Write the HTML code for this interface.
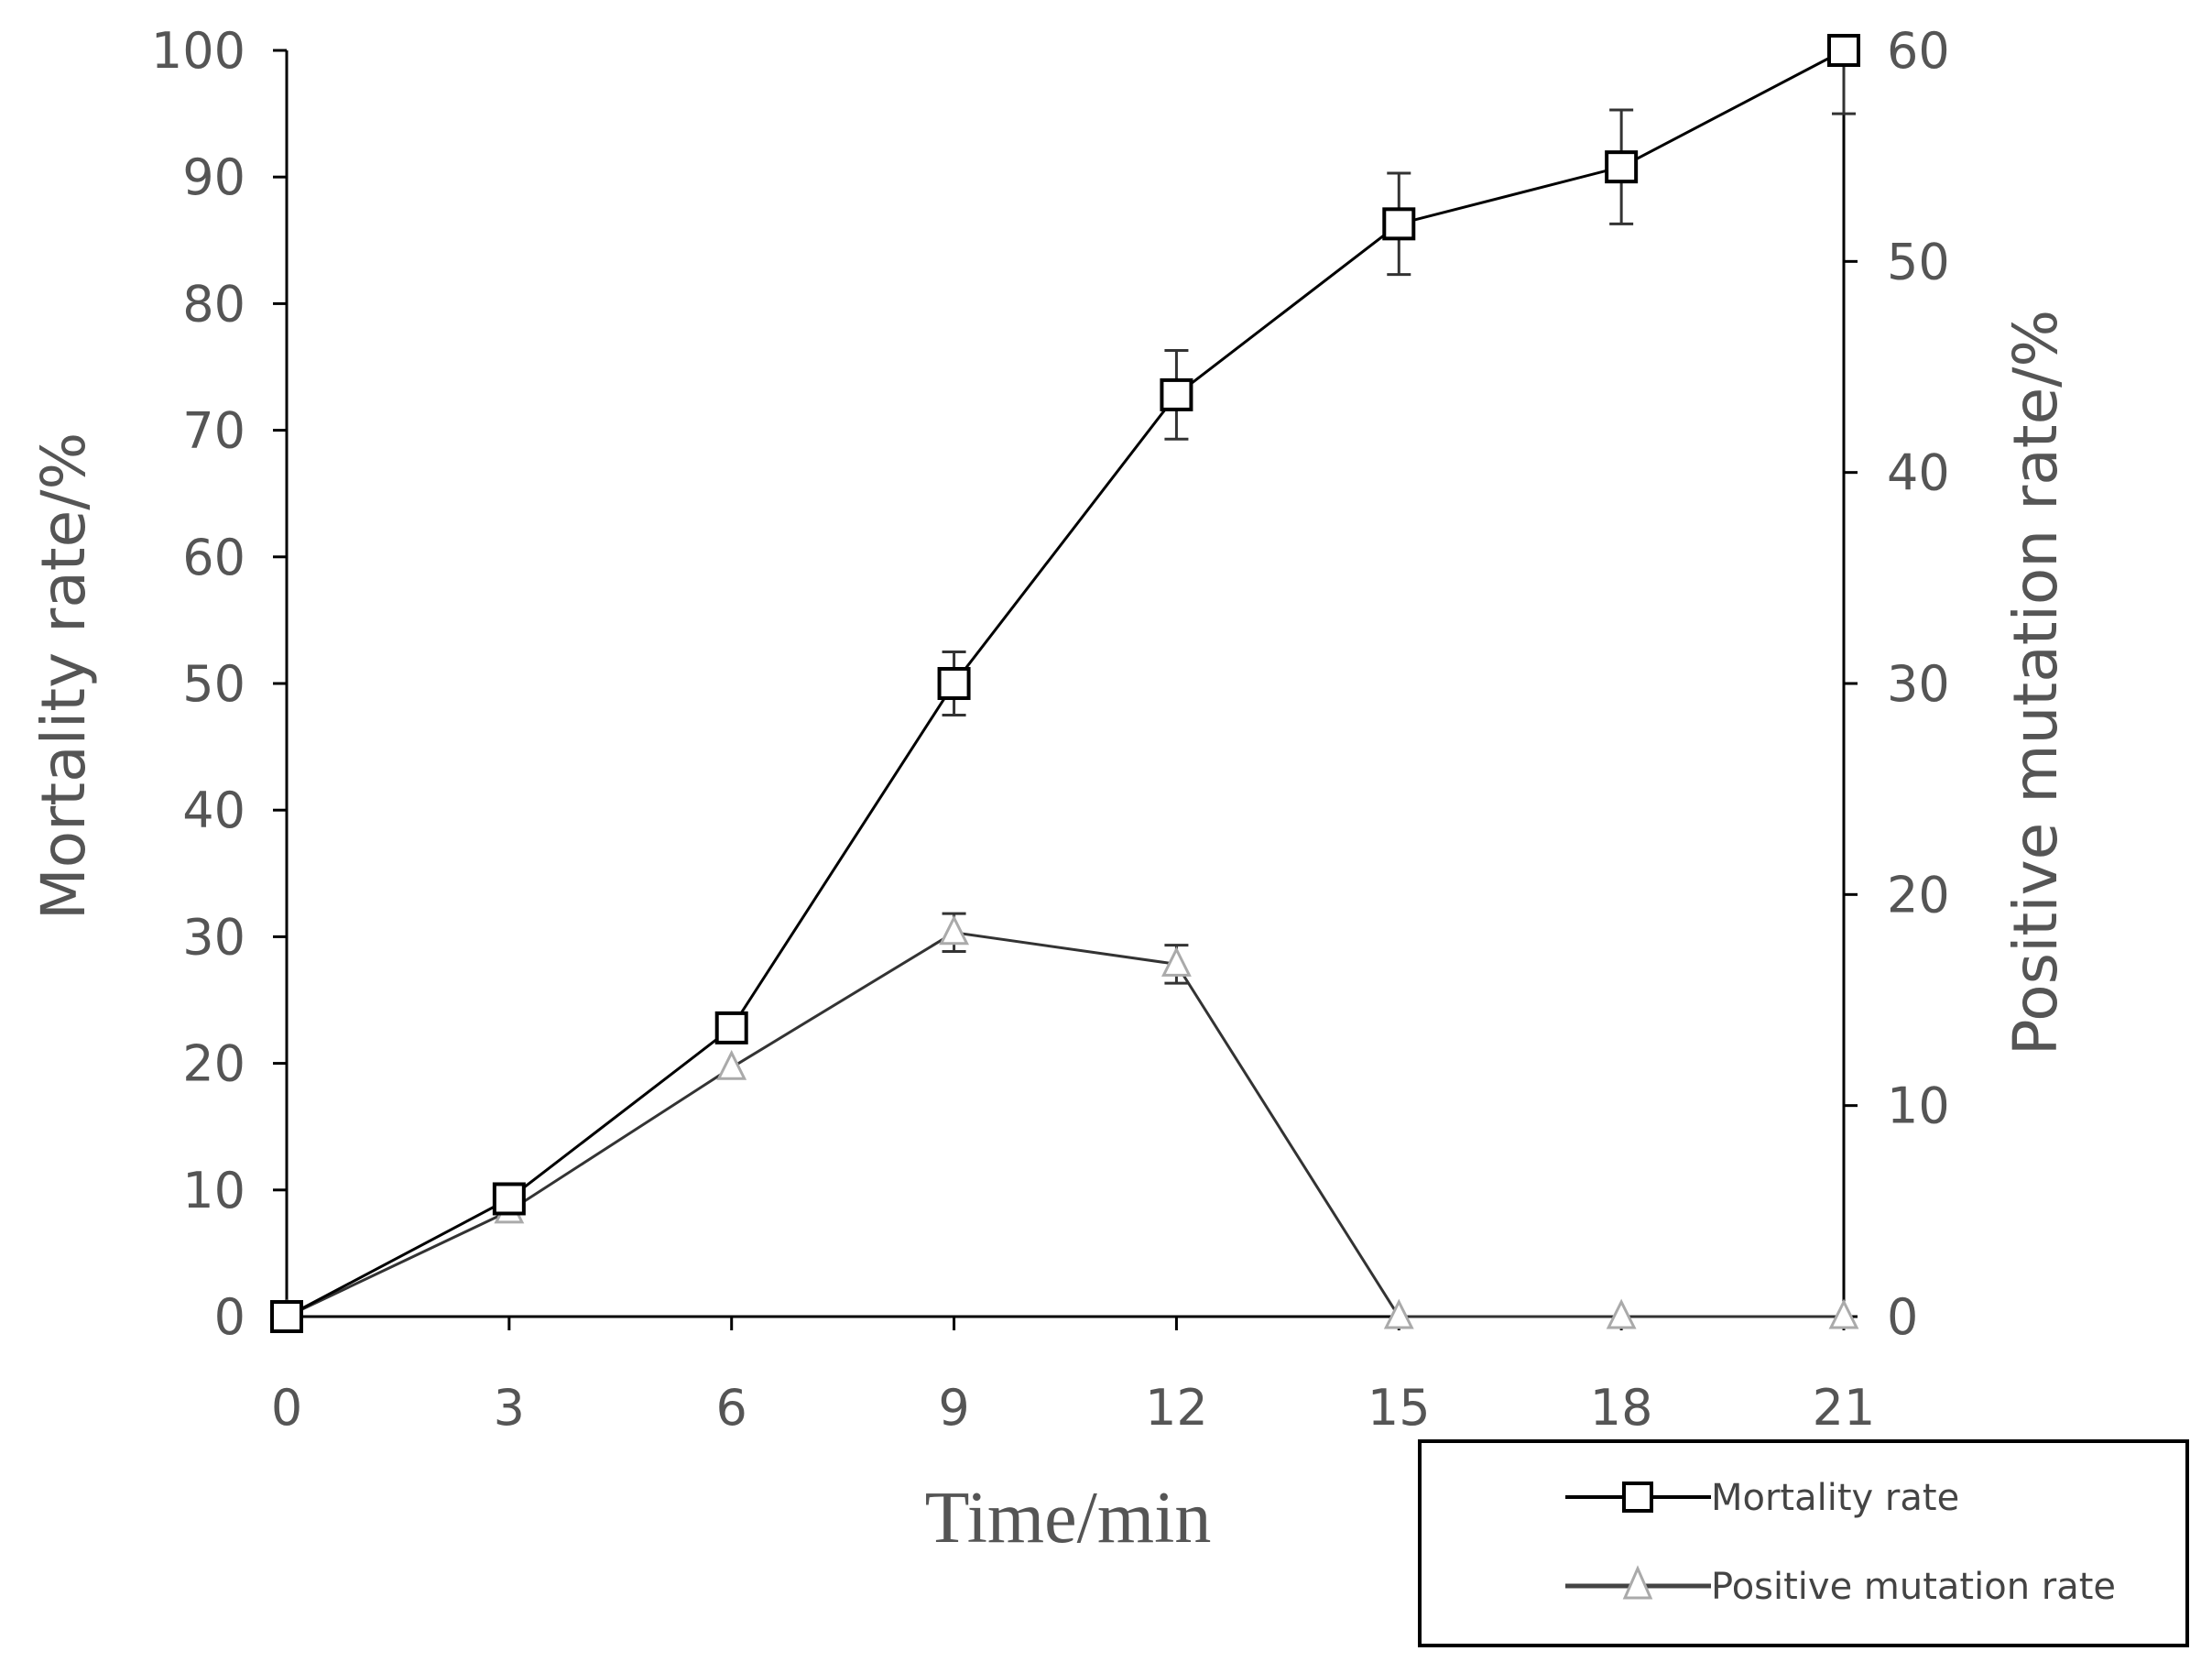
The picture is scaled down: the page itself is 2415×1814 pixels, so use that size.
<!DOCTYPE html>
<html><head><meta charset="utf-8"><style>
body{margin:0;background:#fff;width:2415px;height:1814px;overflow:hidden}
svg{display:block}
</style></head><body>
<svg id="chart" width="2415" height="1814" xmlns="http://www.w3.org/2000/svg" font-family="'DejaVu Sans','Liberation Sans',sans-serif">
<defs><clipPath id="plotclip"><rect x="0" y="55" width="2415" height="1759"/></clipPath></defs>
</svg>
<script>
const times=[0,3,6,9,12,15,18,21];
const mortality=[0,9.3,22.8,50,72.8,86.3,90.8,100];
const mortalityErr=[0,0,0,2.5,3.5,4,4.5,5];
const positive=[0,5,11.8,18.2,16.7,0,0,0];
const positiveErr=[0,0,0,0.9,0.9,0,0,0];
const leftTicks=[0,10,20,30,40,50,60,70,80,90,100];
const rightTicks=[0,10,20,30,40,50,60];
const X0=313,X1=2013,Y0=1437,Y1=55;
const xs=t=>X0+(t-0)/(21-0)*(X1-X0);
const yl=v=>Y0-(v/100)*(Y0-Y1);
const yr=v=>Y0-(v/60)*(Y0-Y1);
const svg=document.getElementById('chart');
const NS='http://www.w3.org/2000/svg';
function mk(tag,attrs,txt){const e=document.createElementNS(NS,tag);for(const k in attrs)e.setAttribute(k,attrs[k]);if(txt!==undefined)e.textContent=txt;svg.appendChild(e);return e;}
let e;
e=mk('line',{x1:X0,y1:Y1,x2:X0,y2:Y0,stroke:'#000','stroke-width':3});

e=mk('line',{x1:X1,y1:Y1,x2:X1,y2:Y0,stroke:'#000','stroke-width':3});

e=mk('line',{x1:X0,y1:Y0,x2:X1,y2:Y0,stroke:'#000','stroke-width':3});

leftTicks.forEach(v=>{
 e=mk('line',{x1:X0-15,y1:yl(v),x2:X0,y2:yl(v),stroke:'#000','stroke-width':3});
 
 e=mk('text',{x:268,y:yl(v)+19,'text-anchor':'end','font-size':54,fill:'#555'},v);
 
});
rightTicks.forEach(v=>{
 e=mk('line',{x1:X1,y1:yr(v),x2:X1+15,y2:yr(v),stroke:'#000','stroke-width':3});
 
 e=mk('text',{x:2060,y:yr(v)+19,'text-anchor':'start','font-size':54,fill:'#555'},v);
 
});
times.forEach(t=>{
 e=mk('line',{x1:xs(t),y1:Y0,x2:xs(t),y2:Y0+15,stroke:'#000','stroke-width':3});
 
 e=mk('text',{x:xs(t),y:1555,'text-anchor':'middle','font-size':54,fill:'#555'},t);
 
});
e=mk('text',{x:0,y:0,transform:'translate(92,738) rotate(-90)','text-anchor':'middle','font-size':66,fill:'#555'},'Mortality rate/%');

e=mk('text',{x:0,y:0,transform:'translate(2245,745) rotate(-90)','text-anchor':'middle','font-size':66,fill:'#555'},'Positive mutation rate/%');

e=mk('text',{x:1166,y:1683,'text-anchor':'middle','font-size':80,fill:'#555','font-family':"'Liberation Serif',serif"},'Time/min');

e=mk('polyline',{points:times.map((t,i)=>xs(t)+','+yr(positive[i])).join(' '),fill:'none',stroke:'#333','stroke-width':3});

times.forEach((t,i)=>{
 if(positiveErr[i]>0){
  const x=xs(t),a=yr(positive[i]+positiveErr[i]),b=yr(positive[i]-positiveErr[i]);
  e=mk('path',{d:`M${x},${a}V${b}M${x-13},${a}H${x+13}M${x-13},${b}H${x+13}`,stroke:'#333','stroke-width':3,fill:'none','clip-path':'url(#plotclip)'});
  
 }
 const x=xs(t),y=yr(positive[i]);
 e=mk('polygon',{points:`${x},${y-16} ${x-14},${y+12} ${x+14},${y+12}`,fill:'#fff',stroke:'#aaa','stroke-width':3});
 
});
e=mk('polyline',{points:times.map((t,i)=>xs(t)+','+yl(mortality[i])).join(' '),fill:'none',stroke:'#000','stroke-width':3});

times.forEach((t,i)=>{
 if(mortalityErr[i]>0){
  const x=xs(t),a=yl(mortality[i]+mortalityErr[i]),b=yl(mortality[i]-mortalityErr[i]);
  e=mk('path',{d:`M${x},${a}V${b}M${x-13},${a}H${x+13}M${x-13},${b}H${x+13}`,stroke:'#333','stroke-width':3,fill:'none','clip-path':'url(#plotclip)'});
  
 }
 const x=xs(t),y=yl(mortality[i]);
 e=mk('rect',{x:x-16,y:y-16,width:32,height:32,fill:'#fff',stroke:'#000','stroke-width':4});
 
});
e=mk('rect',{x:1550,y:1573,width:838,height:223,fill:'#fff',stroke:'#000','stroke-width':4});

e=mk('line',{x1:1709,y1:1634,x2:1868,y2:1634,stroke:'#000','stroke-width':4});

e=mk('rect',{x:1773,y:1619,width:30,height:30,fill:'#fff',stroke:'#000','stroke-width':4});

e=mk('text',{x:1868,y:1648,'font-size':40,fill:'#444'},'Mortality rate');

e=mk('line',{x1:1709,y1:1731,x2:1868,y2:1731,stroke:'#444','stroke-width':5});

e=mk('polygon',{points:'1788,1712 1774,1744 1802,1744',fill:'#fff',stroke:'#aaa','stroke-width':3});

e=mk('text',{x:1868,y:1745,'font-size':40,fill:'#444'},'Positive mutation rate');

</script>
</body></html>
